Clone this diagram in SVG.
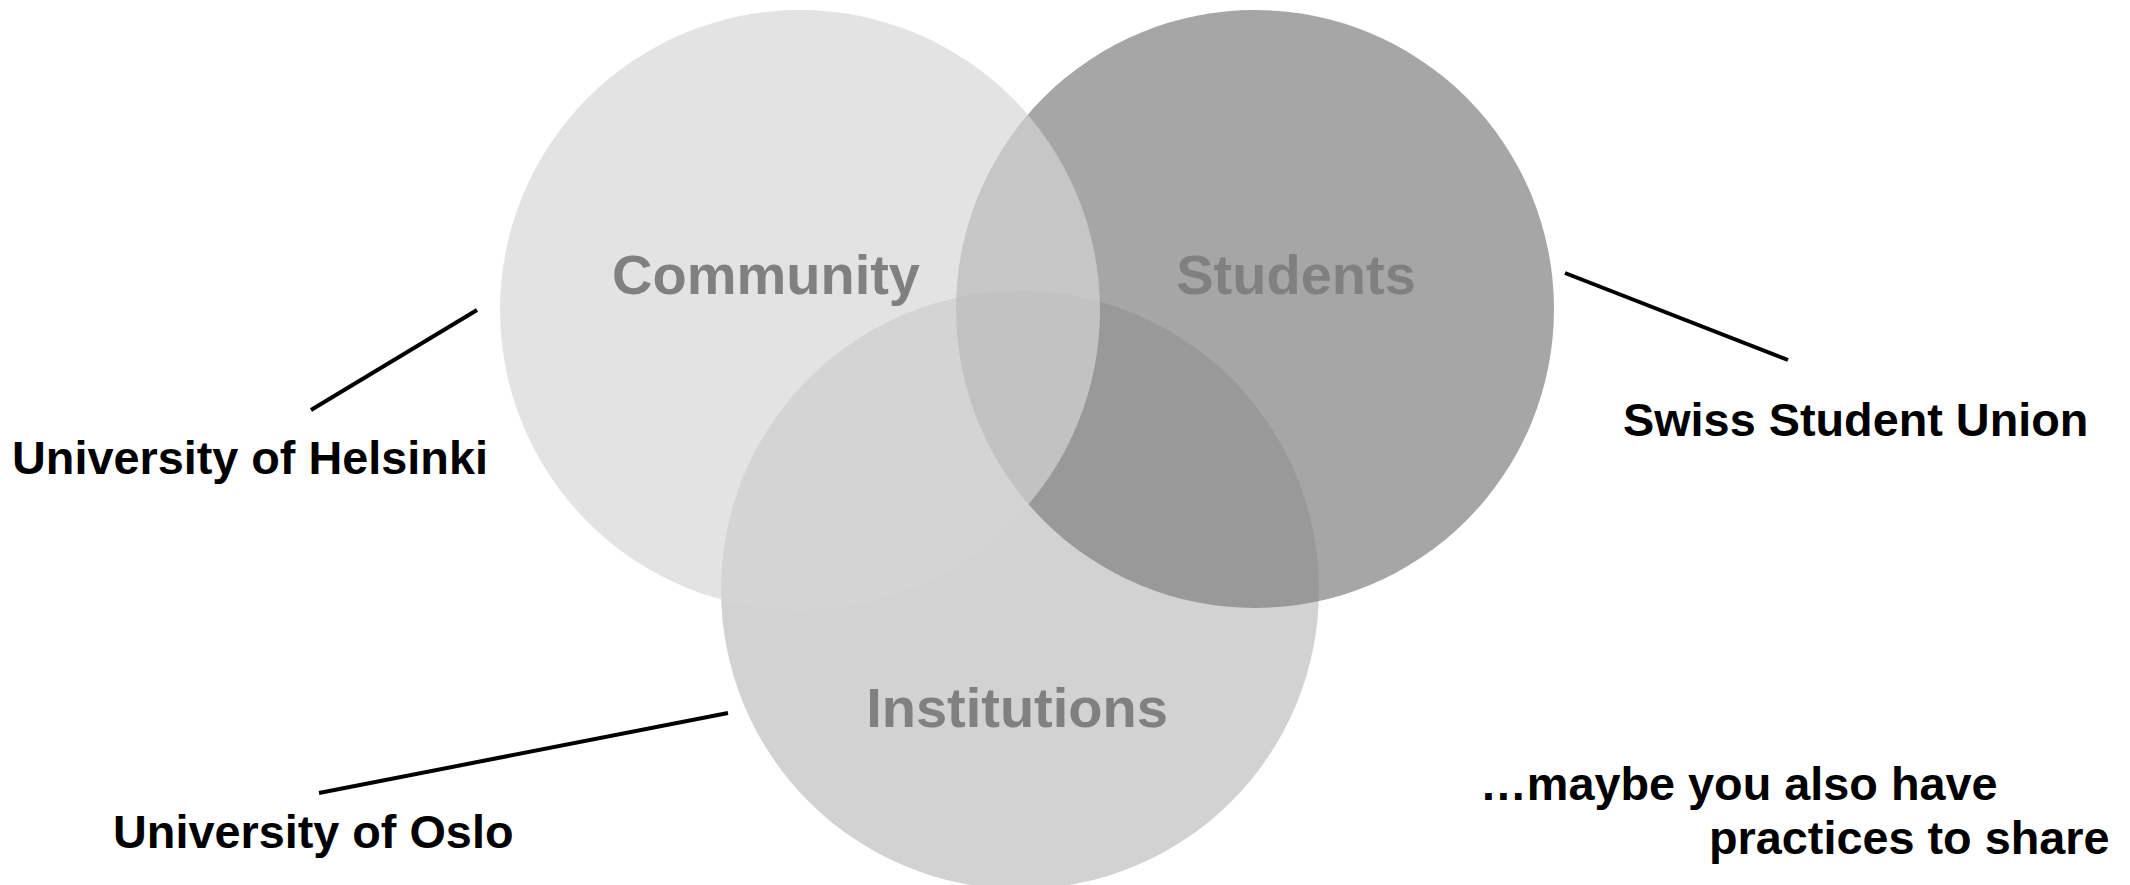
<svg xmlns="http://www.w3.org/2000/svg" width="2130" height="885" viewBox="0 0 2130 885">
<style>
.lbl{font-family:"Liberation Sans",Arial,sans-serif;font-weight:bold;font-size:46.8px;fill:#000}
.set{font-family:"Liberation Sans",Arial,sans-serif;font-weight:bold;font-size:56px;fill:#808080;text-anchor:middle}
.conn{stroke:#000;stroke-width:4;fill:none}
</style>
<rect width="2130" height="885" fill="#fff"/>
<g id="students-circle"><circle cx="1255" cy="309" r="299" fill="#a6a6a6"/></g>
<g id="institutions-circle"><circle cx="1020" cy="590" r="299" fill="#828282" fill-opacity="0.36"/></g>
<g id="community-circle"><circle cx="800" cy="310" r="300" fill="#d6d6d6" fill-opacity="0.674"/></g>
<g id="community"><text class="set" x="766" y="294">Community</text></g>
<g id="students"><text class="set" x="1296" y="294">Students</text></g>
<g id="institutions"><text class="set" x="1017" y="727">Institutions</text></g>
<g id="connectors">
<line class="conn" x1="311" y1="410" x2="477" y2="310"/>
<line class="conn" x1="1565" y1="273" x2="1788" y2="360"/>
<line class="conn" x1="319" y1="793" x2="728" y2="713"/>
</g>
<g id="helsinki"><text class="lbl" x="12" y="474">University of Helsinki</text></g>
<g id="swiss"><text class="lbl" x="1623" y="436">Swiss Student Union</text></g>
<g id="oslo"><text class="lbl" x="113" y="848">University of Oslo</text></g>
<g id="note"><text class="lbl" x="1480" y="800">…maybe you also have</text><text class="lbl" x="1709" y="854">practices to share</text></g>
</svg>
